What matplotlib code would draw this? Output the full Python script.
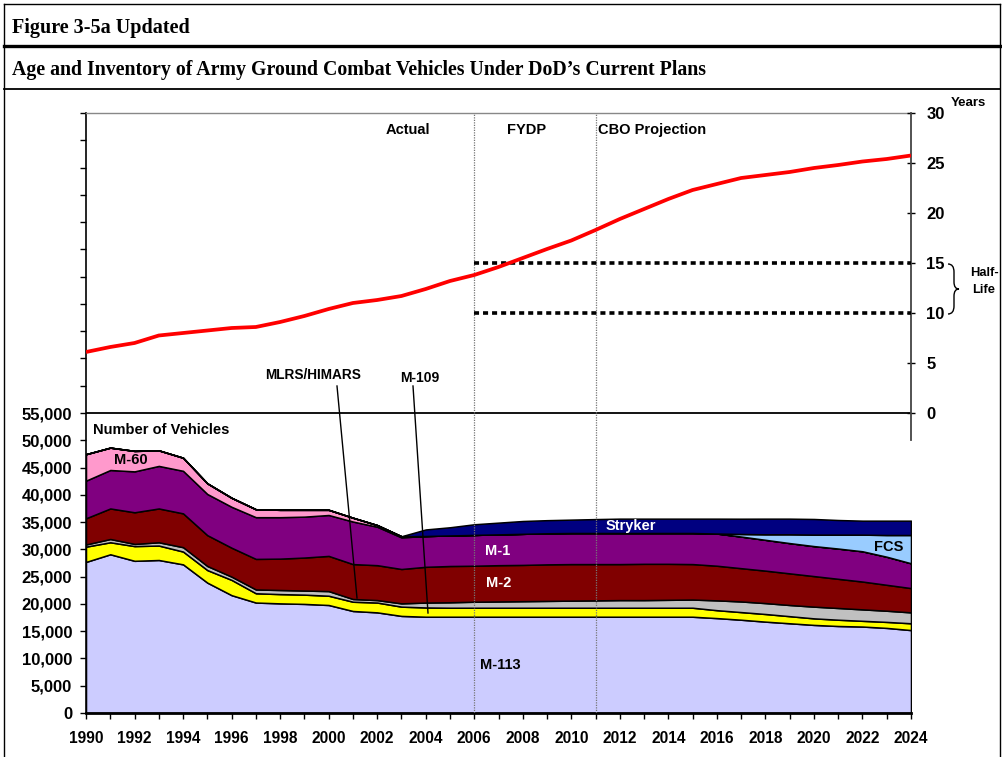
import matplotlib
matplotlib.use("Agg")
import matplotlib.pyplot as plt
from matplotlib.ticker import FixedLocator, FuncFormatter
from matplotlib.path import Path
from matplotlib.patches import PathPatch
import numpy as np

plt.rcParams['font.family'] = ['Liberation Sans', 'DejaVu Sans']
plt.rcParams['font.weight'] = 'bold'

years = list(range(1990, 2025))

m113 = [27700, 29100, 27900, 28050, 27250, 23900, 21600, 20250, 20100, 20000,
        19800, 18700, 18450, 17800, 17650, 17650, 17650, 17650, 17650, 17650,
        17650, 17650, 17650, 17650, 17650, 17650, 17400, 17100, 16750, 16450,
        16150, 15950, 15850, 15600, 15200]
m109 = [2800, 2200, 2700, 2650, 2350, 2300, 2800, 1700, 1700, 1700,
        1700, 1700, 1800, 1700, 1700, 1650, 1650, 1650, 1650, 1650,
        1650, 1650, 1650, 1650, 1650, 1650, 1450, 1400, 1400, 1300,
        1200, 1150, 1050, 1100, 1250]
mlrs = [400, 600, 400, 600, 800, 750, 600, 700, 750, 750,
        850, 500, 450, 600, 900, 1000, 1100, 1150, 1200, 1250,
        1300, 1350, 1400, 1400, 1450, 1500, 1800, 1950, 2000, 2050,
        2150, 2150, 2100, 2050, 2000]
m2 = [4800, 5600, 5800, 6200, 6200, 5650, 5300, 5600, 5750, 6050,
      6450, 6400, 6400, 6300, 6550, 6650, 6600, 6650, 6650, 6700,
      6700, 6650, 6600, 6650, 6600, 6500, 6350, 6100, 5950, 5800,
      5600, 5350, 5100, 4750, 4450]
m1 = [6900, 7050, 7500, 7800, 7800, 7550, 7500, 7650, 7600, 7500,
      7500, 7800, 7050, 5800, 5650, 5600, 5650, 5650, 5700, 5700,
      5700, 5700, 5700, 5650, 5650, 5700, 5900, 5800, 5650, 5550,
      5500, 5550, 5550, 5150, 4550]
m60 = [4850, 4100, 3750, 2850, 2400, 1950, 1650, 1450, 1350, 1250,
       950, 700, 300, 200, 0, 0, 0, 0, 0, 0,
       0, 0, 0, 0, 0, 0, 0, 0, 0, 0,
       0, 0, 0, 0, 0]
fcs = [0] * 27 + [470, 1010, 1610, 2100, 2550, 3050, 3980, 5180]
stryker = [0] * 14 + [1200, 1500, 1950, 2150, 2350, 2400, 2450, 2550, 2630, 2630,
                      2630, 2630, 2730, 2800, 2870, 2870, 2870, 2680, 2560, 2630, 2630]

age = [6.1, 6.6, 7.0, 7.75, 8.0, 8.25, 8.5, 8.6, 9.1, 9.7,
       10.4, 11.0, 11.3, 11.7, 12.4, 13.2, 13.8, 14.6, 15.5, 16.4,
       17.25, 18.3, 19.4, 20.4, 21.4, 22.3, 22.9, 23.5, 23.8, 24.1,
       24.5, 24.8, 25.15, 25.4, 25.75]

half_life = [10, 15]
phase_breaks = [2006, 2011]

series = [m113, m109, mlrs, m2, m1, m60, fcs, stryker]
colors = ['#CCCCFF', '#FFFF00', '#C0C0C0', '#800000', '#800080', '#FF99CC', '#99CCFF', '#000080']

W, H = 1003, 757
fig = plt.figure(figsize=(W / 100, H / 100), dpi=100)


def fx(x):
    return x / W


def fy(y):
    return 1 - y / H


ax = fig.add_axes([fx(86), fy(713), (911 - 86) / W, (713 - 113) / H])
ax.stackplot(years, *series, colors=colors, edgecolor='black', linewidth=1.1)
ax.set_xlim(1990, 2024)
ax.set_ylim(0, 110000)

ax.axhline(55000, color='black', lw=1.3, zorder=5)
for b in phase_breaks:
    ax.axvline(b, color='#777777', lw=0.9, ls=(0, (1, 1)), zorder=6)

ax.xaxis.set_major_locator(FixedLocator(list(range(1990, 2025, 2))))
ax.xaxis.set_minor_locator(FixedLocator(list(range(1991, 2025, 2))))
ax.tick_params(axis='x', which='both', direction='out', length=4, width=1, pad=9, labelsize=11.2)
ax.yaxis.set_major_locator(FixedLocator(list(range(0, 110001, 5000))))
ax.yaxis.set_major_formatter(FuncFormatter(lambda v, p: f"{int(v):,}" if v <= 55000 else ""))
ax.tick_params(axis='y', direction='out', length=4, width=1, pad=6, labelsize=12)
for lab in ax.get_xticklabels() + ax.get_yticklabels():
    lab.set_fontweight('bold')

ax.spines['right'].set_visible(False)
ax.spines['top'].set_color('#888888')
ax.spines['top'].set_linewidth(1)
ax.spines['bottom'].set_linewidth(2)
ax.spines['left'].set_linewidth(1.2)

ax2 = ax.twinx()
ax2.set_ylim(-30, 30)
ax2.plot(years, age, color='#FF0000', lw=2.7, solid_capstyle='butt', zorder=5)
ax2.hlines(half_life, 2006, 2024, colors='black', lw=2.6, linestyles=(0, (1.4, 1.1)), zorder=4)
ax2.set_yticks(list(range(0, 31, 5)))
ax2.tick_params(axis='y', direction='inout', length=6, width=1, pad=8, labelsize=12)
for lab in ax2.get_yticklabels():
    lab.set_fontweight('bold')
for s in ['left', 'top', 'bottom']:
    ax2.spines[s].set_visible(False)
ax2.spines['right'].set_color('#444444')
ax2.spines['right'].set_linewidth(1.3)
ax2.spines['right'].set_bounds(-2.7, 30)

# annotations
def t(x, y, s, size=10.5, color='black', ha='center', **kw):
    fig.text(fx(x), fy(y), s, fontsize=size, color=color, ha=ha, va='center', fontweight='bold', **kw)

t(408, 130, 'Actual')
t(527, 130, 'FYDP')
t(598, 130, 'CBO Projection', ha='left')
t(93, 430, 'Number of Vehicles', ha='left')
t(131, 460, 'M-60')
t(498, 551, 'M-1', color='white')
t(499, 583, 'M-2', color='white')
t(500, 665, 'M-113')
t(631, 526, 'Stryker', color='white')
t(889, 547, 'FCS')
t(313, 375, 'MLRS/HIMARS', size=9.8)
t(420, 378, 'M-109', size=10)
t(968, 103, 'Years', size=9.5)
t(984, 273, 'Half-', size=9.3)
t(984, 290, 'Life', size=9.3)

# leader lines
fig.add_artist(plt.Line2D([fx(337), fx(357)], [fy(386), fy(598)], color='black', lw=1))
fig.add_artist(plt.Line2D([fx(413), fx(428)], [fy(386), fy(613)], color='black', lw=1))

# brace
bp = [(948, 264), (954, 264), (954, 272), (954, 282), (954, 289), (959, 289), (954, 289),
      (954, 296), (954, 306), (954, 314), (948, 314)]
codes = [Path.MOVETO, Path.CURVE3, Path.CURVE3, Path.LINETO, Path.CURVE3, Path.CURVE3,
         Path.CURVE3, Path.CURVE3, Path.LINETO, Path.CURVE3, Path.CURVE3]
verts = [(fx(x), fy(y)) for x, y in bp]
fig.add_artist(PathPatch(Path(verts, codes), transform=fig.transFigure, fill=False, lw=1, color='black'))

# header / frame
fig.text(fx(12), fy(28), 'Figure 3-5a Updated', fontsize=14.5, fontweight='bold',
         family='Liberation Serif', va='center', ha='left')
fig.text(fx(12), fy(70), 'Age and Inventory of Army Ground Combat Vehicles Under DoD\u2019s Current Plans',
         fontsize=14.3, fontweight='bold', family='Liberation Serif', va='center', ha='left')
fig.add_artist(plt.Line2D([fx(4), fx(1000)], [fy(4), fy(4)], color='black', lw=1))
fig.add_artist(plt.Line2D([fx(4), fx(1000)], [fy(46), fy(46)], color='black', lw=2.4))
fig.add_artist(plt.Line2D([fx(4), fx(1000)], [fy(89), fy(89)], color='black', lw=1.3))
fig.add_artist(plt.Line2D([fx(4), fx(4)], [fy(4), fy(757)], color='black', lw=1))
fig.add_artist(plt.Line2D([fx(1000), fx(1000)], [fy(4), fy(757)], color='black', lw=1))

fig.savefig('out.png', dpi=100)
